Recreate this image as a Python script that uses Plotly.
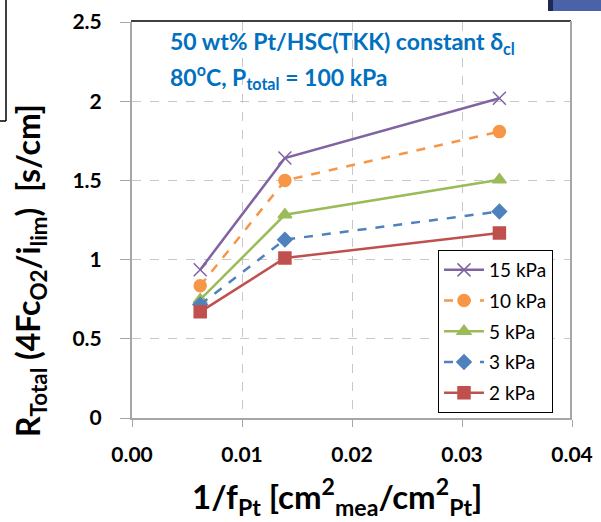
import plotly.graph_objects as go

x_vals = [0.0062, 0.0139, 0.0334]
series_names = ["15 kPa", "10 kPa", "5 kPa", "3 kPa", "2 kPa"]
r_15 = [0.936, 1.641, 2.019]
r_10 = [0.835, 1.499, 1.808]
r_5 = [0.747, 1.283, 1.504]
r_3 = [0.716, 1.126, 1.304]
r_2 = [0.670, 1.010, 1.168]
x_ticks = [0.0, 0.01, 0.02, 0.03, 0.04]
y_ticks = [0, 0.5, 1, 1.5, 2, 2.5]

series_values = [r_15, r_10, r_5, r_3, r_2]
colors = ["#8064A2", "#F79646", "#9BBB59", "#4F81BD", "#C0504D"]
dashes = ["solid", "dash", "solid", "dash", "solid"]
symbols = ["x-thin-open", "circle", "triangle-up", "diamond", "square"]
sizes = [13, 12, 12, 11, 12]

FONT = "Lato"

fig = go.Figure()
for name, vals, c, d, s, sz in zip(series_names, series_values, colors, dashes, symbols, sizes):
    fig.add_trace(go.Scatter(
        x=x_vals, y=vals, name=name, mode="lines+markers",
        legendgroup=name,
        line=dict(color=c, width=2.5, dash=d),
        marker=dict(symbol=s, size=sz, color=c, line=dict(color=c, width=1.5)),
    ))

L, R, T, B = 132, 29, 22, 104
W, H = 601, 522
pw, ph = W - L - R, H - T - B

def px2paper(px, py):
    return (px - L) / pw, (H - B - py) / ph

fig.update_layout(
    width=W, height=H,
    margin=dict(l=L, r=R, t=T, b=B, autoexpand=False),
    plot_bgcolor="white", paper_bgcolor="white",
    font=dict(family=FONT, color="black"),
    xaxis=dict(
        range=[0, 0.04], tickvals=x_ticks, tickformat=".2f",
        showgrid=True, gridcolor="#c8c8c8", griddash="dash", gridwidth=1,
        showline=True, linecolor="#a6a6a6", linewidth=2,
        ticks="outside", ticklen=7, tickcolor="#a6a6a6", tickwidth=1,
        tickfont=dict(size=21, family=FONT, color="black", weight="bold"),
        ticklabelstandoff=10, ticklabeloverflow="allow",
        zeroline=False, mirror=False,
    ),
    yaxis=dict(
        range=[0, 2.5], tickvals=y_ticks,
        showgrid=True, gridcolor="#c8c8c8", griddash="dash", gridwidth=1,
        showline=True, linecolor="#a6a6a6", linewidth=2,
        ticks="outside", ticklen=10, tickcolor="#a6a6a6", tickwidth=1,
        tickfont=dict(size=21, family=FONT, color="black", weight="bold"),
        ticklabelstandoff=14, ticklabeloverflow="allow",
        zeroline=False,
    ),
    showlegend=True,
    legend=dict(
        x=px2paper(438, 0)[0], y=px2paper(0, 250)[1], xanchor="left", yanchor="top",
        bordercolor="black", borderwidth=1, bgcolor="white",
        font=dict(size=19, family=FONT, color="black"),
        itemwidth=40, tracegroupgap=3,
    ),
)

# axis titles as annotations
fig.add_annotation(
    text="<b>1/f<sub>Pt</sub> [cm<sup>2</sup><sub>mea</sub>/cm<sup>2</sup><sub>Pt</sub>]</b>",
    xref="paper", yref="paper", x=px2paper(337, 0)[0], y=px2paper(0, 497)[1],
    showarrow=False, font=dict(size=33, family=FONT, color="black"),
    xanchor="center", yanchor="middle",
)
fig.add_annotation(
    text="<b>R<sub>Total</sub> (4Fc<sub>O2</sub>/i<sub>lim</sub>)  [s/cm]</b>",
    xref="paper", yref="paper", x=px2paper(30, 0)[0], y=px2paper(0, 271)[1],
    showarrow=False, textangle=-90, font=dict(size=32, family=FONT, color="black"),
    xanchor="center", yanchor="middle",
)
# in-plot annotation, two lines
fig.add_annotation(
    text="<b>50 wt% Pt/HSC(TKK) constant δ<sub>cl</sub></b>",
    xref="paper", yref="paper", x=px2paper(168, 0)[0], y=px2paper(0, 43)[1],
    showarrow=False, align="left", xanchor="left", yanchor="middle",
    font=dict(size=23, family=FONT, color="#0070C0"),
)
fig.add_annotation(
    text="<b>80<sup>o</sup>C, P<sub>total</sub> = 100 kPa</b>",
    xref="paper", yref="paper", x=px2paper(168, 0)[0], y=px2paper(0, 77)[1],
    showarrow=False, align="left", xanchor="left", yanchor="middle",
    font=dict(size=23, family=FONT, color="#0070C0"),
)

# decorative frame pieces from the source image
x0, y0 = px2paper(131, 21)
x1, _ = px2paper(571, 21)
fig.add_shape(type="line", xref="paper", yref="paper", x0=x0, y0=y0, x1=x1, y1=y0,
              line=dict(color="black", width=1.5))
xr, yb = px2paper(571, 418)
_, yt = px2paper(571, 21)
fig.add_shape(type="line", xref="paper", yref="paper", x0=xr, y0=yb, x1=xr, y1=yt,
              line=dict(color="#a6a6a6", width=2))
ax, ay0 = px2paper(6, 0)
_, ay1 = px2paper(6, 121)
bx, _ = px2paper(0, 0)
fig.add_shape(type="line", xref="paper", yref="paper", x0=ax, y0=ay0, x1=ax, y1=ay1,
              line=dict(color="black", width=1.5))
fig.add_shape(type="line", xref="paper", yref="paper", x0=bx, y0=ay1, x1=ax, y1=ay1,
              line=dict(color="black", width=1.5))
rx0, ry0 = px2paper(548, 0)
rx1, ry1 = px2paper(601, 11)
fig.add_shape(type="rect", xref="paper", yref="paper", x0=rx0, y0=ry0, x1=rx1, y1=ry1,
              line=dict(width=0), fillcolor="#4a62a8")
dx1, _ = px2paper(553, 0)
fig.add_shape(type="rect", xref="paper", yref="paper", x0=rx0, y0=ry0, x1=dx1, y1=ry1,
              line=dict(width=0), fillcolor="#1e2a55")

fig.write_html("out.html", config={"displayModeBar": False},
               post_script="document.body.style.margin='0';")
